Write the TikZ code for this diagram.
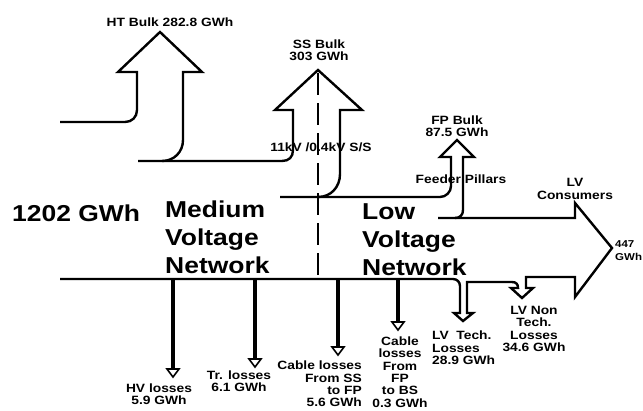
\documentclass[tikz,border=0pt]{standalone}
\usepackage{fontspec}
\setmainfont{Liberation Sans}
\newfontfamily\lblfont[FakeStretch=1.15]{Liberation Sans}
\newcommand\lossarrow[3]{%
  \draw[lossshaft] (#1,#2) -- (#1,#3);
  \draw[losshead] (#1-6,#3) -- (#1,#3+8) -- (#1+6,#3) -- cycle;}
\tikzset{
  flow/.style={line width=2.4pt, line join=miter},
  lossshaft/.style={line width=4.5pt},
  losshead/.style={line width=1.6pt, fill=white, line join=miter},
  big/.style={font=\lblfont\bfseries\fontsize{23}{28}\selectfont, inner sep=0pt},
  lbl/.style={font=\lblfont\bfseries\fontsize{12}{12.3}\selectfont, inner sep=0pt},
  divider/.style={line width=2pt, dash pattern=on 22pt off 8pt},
}
\begin{document}
\begin{tikzpicture}[x=1pt,y=-1pt]
\useasboundingbox[fill=white] (0,0) rectangle (643,410);

% HT bulk outline (top of input flow)
\draw[flow] (60,122) -- (125,122) .. controls (132,122) and (137,117) .. (137,110)
  -- (137,72) -- (118,72) -- (160,32) -- (202,72) -- (183,72) -- (183,140)
  .. controls (183,152) and (174,161) .. (162,161);
% SS bulk outline
\draw[flow] (138,161) -- (282,161) .. controls (289,161) and (293,157) .. (293,150)
  -- (293,110) -- (275,110) -- (318,70) -- (362,110) -- (340,110) -- (340,174)
  .. controls (340,187) and (331,197) .. (318,197);
% FP bulk outline
\draw[flow] (280,197) -- (440,197) .. controls (446,197) and (451,192) .. (451,186)
  -- (451,157) -- (440,157) -- (457,140) -- (474,157) -- (463,157) -- (463,210)
  .. controls (463,215) and (460,218) .. (455,218);
% LV consumers, LV losses and bottom of input flow
\draw[flow] (438,218) -- (575,218) -- (575,203) -- (612,248) -- (575,297) -- (575,277)
  -- (526,277) -- (526,288) -- (533,288) -- (522,298) -- (511,288) -- (518,288)
  .. controls (518,284) and (516,282) .. (512,282) -- (467,282) -- (467,313)
  -- (473,313) -- (463,321) -- (454,313) -- (460,313) -- (460,286)
  .. controls (460,282) and (457,279) .. (453,279) -- (60,279);

% MV / LV divider
\draw[divider] (318,73) -- (318,278);

% small loss arrows
\lossarrow{173}{279}{369}
\lossarrow{255}{279}{359}
\lossarrow{338}{279}{347}
\lossarrow{398}{279}{322}

% labels
\node[big, anchor=base west] (total) at (12,221) {1202 GWh};
\node[big, align=left, anchor=west] (mv) at (165,237) {Medium\\Voltage\\Network};
\node[big, align=left, anchor=west] (lv) at (362,240) {Low\\Voltage\\Network};

\node[lbl] (ht) at (170,22) {HT Bulk 282.8 GWh};
\node[lbl, align=center] (ss) at (319,50) {SS Bulk\\303 GWh};
\node[lbl] (sub) at (321,147) {11kV /0.4kV S/S};
\node[lbl, align=center] (fp) at (457,126) {FP Bulk\\87.5 GWh};
\node[lbl] (pillars) at (461,179) {Feeder Pillars};
\node[lbl, align=center] (cons) at (575,189) {LV\\Consumers};
\node[lbl, font=\lblfont\bfseries\fontsize{10}{13}\selectfont, align=left, anchor=west] (out) at (615,251) {447\\GWh};

\node[lbl, align=center] (hv) at (159,394) {HV losses\\5.9 GWh};
\node[lbl, align=center] (tr) at (239,381) {Tr. losses\\6.1 GWh};
\node[lbl, align=right, anchor=east] (cab1) at (362,384) {Cable losses\\From SS\\to FP\\5.6 GWh};
\node[lbl, align=center] (cab2) at (400,372) {Cable\\losses\\From\\FP\\to BS\\0.3 GWh};
\node[lbl, align=left, anchor=west] (lvt) at (432,348) {LV~~Tech.\\Losses\\28.9 GWh};
\node[lbl, align=center] (lvnt) at (534,329) {LV Non\\Tech.\\Losses\\34.6 GWh};
\end{tikzpicture}
\end{document}
